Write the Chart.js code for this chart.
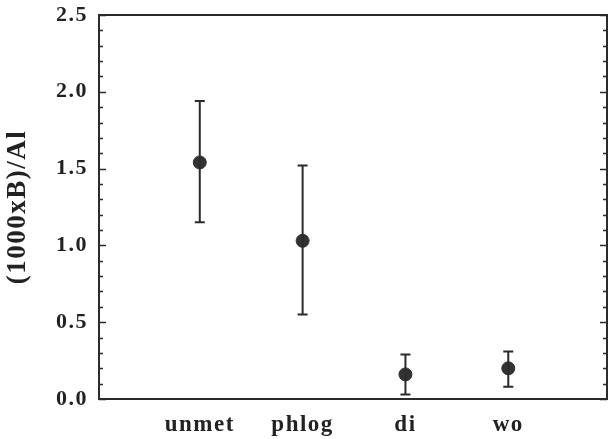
<!DOCTYPE html>
<html>
<head>
<meta charset="utf-8">
<script src="https://cdn.jsdelivr.net/npm/chart.js@4.4.1/dist/chart.umd.min.js"></script>
<style>
  html, body { margin: 0; padding: 0; background: #fff; }
  #wrap { width: 609px; height: 439px; }
</style>
</head>
<body>
<div id="wrap"><canvas id="chart" width="609" height="439"></canvas></div>
<script>
const categories = ["unmet", "phlog", "di", "wo"];
const positions = [1, 2, 3, 4];
const means = [1.54, 1.03, 0.16, 0.20];
const errLow = [1.15, 0.55, 0.03, 0.08];
const errHigh = [1.94, 1.52, 0.29, 0.31];
const yMajor = [0, 0.5, 1.0, 1.5, 2.0, 2.5];
const yMinorStep = 0.1;

const ink = "#2b2b2b";

// wider letter spacing like the scanned figure's type
const spacing = {
  id: "spacing",
  beforeDraw(chart) { chart.ctx.letterSpacing = "1.5px"; }
};

// error bars + inward ticks + box frame
const decorations = {
  id: "decorations",
  afterDatasetsDraw(chart) {
    const ctx = chart.ctx;
    const xs = chart.scales.x;
    const ys = chart.scales.y;
    const area = chart.chartArea;
    ctx.save();
    ctx.strokeStyle = ink;
    ctx.lineWidth = 2;

    for (let i = 0; i < positions.length; i++) {
      const x = xs.getPixelForValue(positions[i]);
      const yl = ys.getPixelForValue(errLow[i]);
      const yh = ys.getPixelForValue(errHigh[i]);
      ctx.beginPath();
      ctx.moveTo(x, yl); ctx.lineTo(x, yh);
      ctx.moveTo(x - 5, yl); ctx.lineTo(x + 5, yl);
      ctx.moveTo(x - 5, yh); ctx.lineTo(x + 5, yh);
      ctx.stroke();
    }

    // tick marks on left and right, pointing inward
    ctx.lineWidth = 1.5;
    for (let v = 0; v <= 2.5 + 1e-9; v += yMinorStep) {
      const y = Math.round(ys.getPixelForValue(v)) + 0.5;
      const major = yMajor.some(m => Math.abs(m - v) < 1e-6);
      const len = major ? 7 : 4;
      ctx.beginPath();
      ctx.moveTo(area.left, y); ctx.lineTo(area.left + len, y);
      ctx.moveTo(area.right, y); ctx.lineTo(area.right - len, y);
      ctx.stroke();
    }

    ctx.lineWidth = 2;
    ctx.strokeRect(area.left, area.top, area.right - area.left, area.bottom - area.top);
    ctx.restore();
  }
};

new Chart(document.getElementById("chart"), {
  type: "scatter",
  data: {
    datasets: [{
      data: positions.map((p, i) => ({ x: p, y: means[i] })),
      pointRadius: 6.5,
      pointBackgroundColor: "#333",
      pointBorderColor: "#333",
      showLine: false
    }]
  },
  options: {
    responsive: false,
    animation: false,
    layout: { autoPadding: false, padding: { top: 15, right: 2, left: 0, bottom: 0 } },
    plugins: { legend: { display: false }, tooltip: { enabled: false } },
    scales: {
      x: {
        type: "linear",
        min: 0.02,
        max: 4.96,
        afterBuildTicks: (scale) => {
          scale.ticks = positions.map(p => ({ value: p }));
        },
        afterFit: (scale) => {
          scale.height = 40;
          scale.paddingLeft = 0;
          scale.paddingRight = 0;
        },
        grid: { display: false, drawTicks: false },
        border: { display: false },
        ticks: {
          padding: 12,
          color: "#222",
          font: { family: "Liberation Serif", size: 23, weight: "bold" },
          callback: (v) => categories[positions.indexOf(v)] || ""
        }
      },
      y: {
        min: 0,
        max: 2.5,
        afterBuildTicks: (scale) => {
          scale.ticks = yMajor.map(v => ({ value: v }));
        },
        afterFit: (scale) => {
          scale.width = 99;
          scale.paddingTop = 0;
          scale.paddingBottom = 0;
        },
        grid: { display: false, drawTicks: false },
        border: { display: false },
        ticks: {
          padding: 11,
          color: "#222",
          font: { family: "Liberation Serif", size: 22, weight: "bold" },
          callback: (v) => v.toFixed(1)
        },
        title: {
          display: true,
          text: "(1000xB)/Al",
          color: "#222",
          padding: { top: 2, bottom: 0 },
          font: { family: "Liberation Serif", size: 27, weight: "bold" }
        }
      }
    }
  },
  plugins: [spacing, decorations]
});
</script>
</body>
</html>
